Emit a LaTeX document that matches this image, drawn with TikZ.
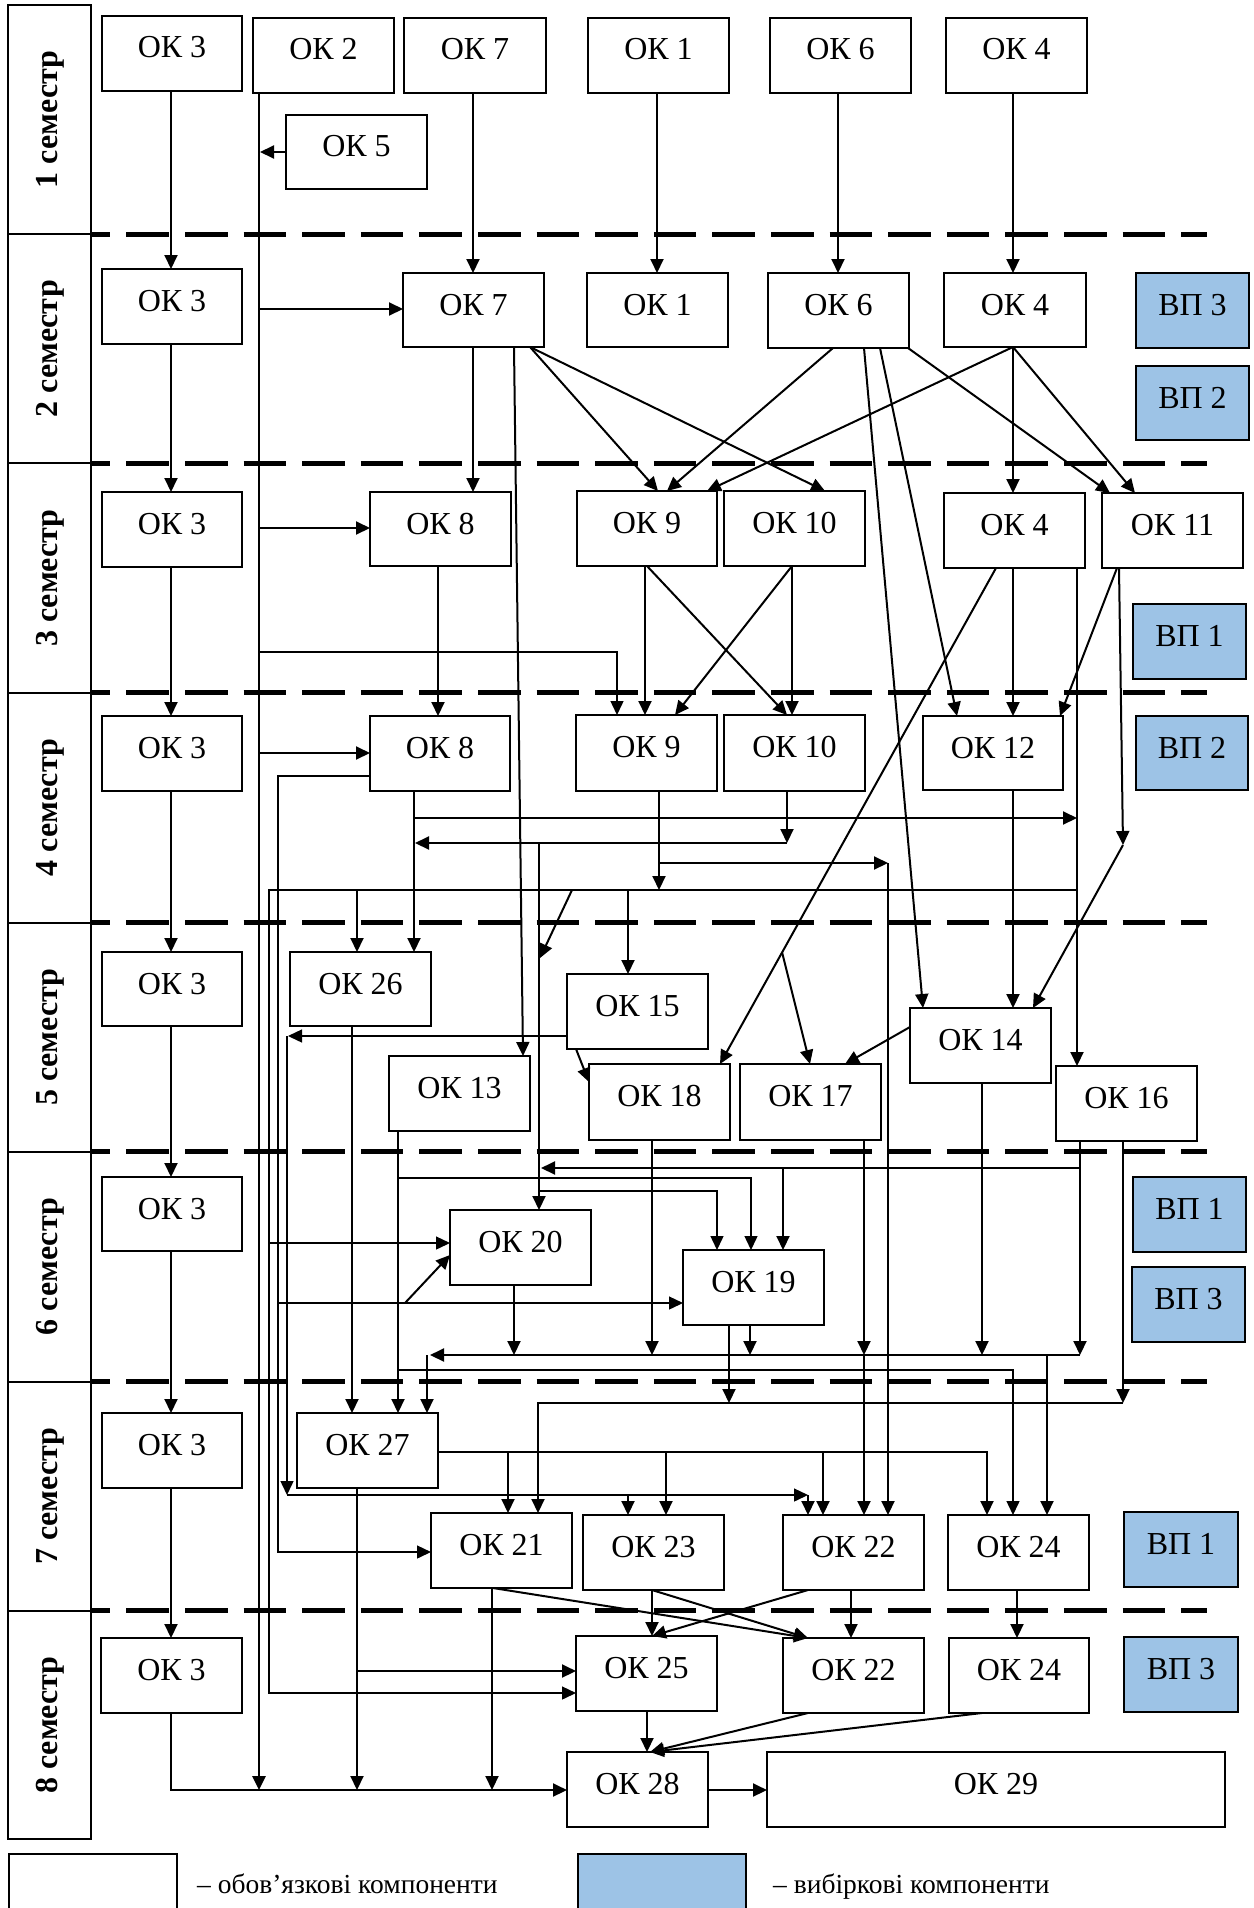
\documentclass[tikz,border=0pt]{standalone}
\usepackage{fontspec}
\setmainfont{Liberation Serif}
\newfontfamily\bxfont{Liberation Serif}
\usetikzlibrary{arrows.meta}
\definecolor{vpblue}{HTML}{9DC3E6}
\tikzset{
  bx/.style={draw, line width=2pt, fill=white, inner sep=0pt, outer sep=0pt, font=\bxfont\fontsize{32}{38}\selectfont},
  vp/.style={bx, fill=vpblue, line width=2.6pt},
  arr/.style={line width=2pt, -{Triangle[length=14pt,width=13pt]}},
  tarr/.style={line width=1.4pt, -{Triangle[length=14pt,width=13pt]}},
  sepline/.style={line width=5pt, dash pattern=on 42.5pt off 16.1pt, dash phase=22.9pt},
  semcell/.style={draw, line width=2pt},
  semtxt/.style={rotate=90, inner sep=0pt, font=\bfseries\fontsize{32}{38}\selectfont},
  legtxt/.style={anchor=base west, inner sep=0pt, font=\fontsize{27.5}{33}\selectfont}
}
\newcommand\bx[7][bx]{%
  \pgfmathsetmacro\bxw{#5-#3}%
  \pgfmathsetmacro\bxh{#6-#4}%
  \pgfmathsetmacro\bxd{#6-#4-42}%
  \pgfmathsetmacro\bxc{(#3+#5)/2}%
  \node[#1, minimum width=\bxw pt, minimum height=\bxh pt, text height=42pt, text depth=\bxd pt, anchor=north] (#2) at (\bxc,#4) {#7};}
\begin{document}
\begin{tikzpicture}[x=1pt,y=-1pt]
\useasboundingbox (0,0) rectangle (1253,1908);
% helper coordinates
\foreach \v in {171,259,473,657,838,1013,514,523,530,658,825,833,667,707,908,1110,1135,880,957,864,923,617,438,645,647,787,792,675,996,720,810,1077,1117,1060,1119,1033,414,539,659,888,357,628,576,352,398,751,845,982,652,1080,783,1123,538,717,750,729,427,1047,987,508,666,823,492,493,808,851,1017,650}
  \coordinate (X\v) at (\v,0);
\foreach \v in {152,309,528,753,776,1552,1693,1036,1082,1027,1243,1303,1255,1452,1671,1790}
  \coordinate (Y\v) at (0,\v);
% semester column
\foreach \i/\t/\b in {1/4.7/234.3,2/234.3/463.3,3/463.3/692.7,4/692.7/922.7,5/922.7/1151.7,6/1151.7/1381.7,7/1381.7/1610.7,8/1610.7/1839.3}{
  \draw[semcell] (8.3,\t) rectangle (90.7,\b);
  \node[semtxt] (s\i) at (50,{(\t+\b)/2}) {\i\ семестр};
}
% separators
\foreach \y in {234.3,463.3,692.7,922.7,1151.7,1381.7,1610.7}
  \draw[sepline] (90.7,\y) -- (1207,\y);
% boxes
\bx{a3}{102}{16}{242}{91}{ОК 3}
\bx{a2}{253}{18}{394}{93}{ОК 2}
\bx{a7}{404}{18}{546}{93}{ОК 7}
\bx{a1}{588}{18}{729}{93}{ОК 1}
\bx{a6}{770}{18}{911}{93}{ОК 6}
\bx{a4}{946}{18}{1087}{93}{ОК 4}
\bx{a5}{286}{115}{427}{189}{ОК 5}
\bx{b3}{102}{269}{242}{344}{ОК 3}
\bx{b7}{403}{273}{544}{347}{ОК 7}
\bx{b1}{587}{273}{728}{347}{ОК 1}
\bx{b6}{768}{273}{909}{348}{ОК 6}
\bx{b4}{944}{273}{1086}{347}{ОК 4}
\bx[vp]{bvp3}{1136}{273}{1249}{348}{ВП 3}
\bx[vp]{bvp2}{1136}{366}{1249}{440}{ВП 2}
\bx{c3}{102}{492}{242}{567}{ОК 3}
\bx{c8}{370}{492}{511}{566}{ОК 8}
\bx{c9}{577}{491}{717}{566}{ОК 9}
\bx{c10}{724}{491}{865}{566}{ОК 10}
\bx{c4}{944}{493}{1085}{568}{ОК 4}
\bx{c11}{1102}{493}{1243}{568}{ОК 11}
\bx[vp]{cvp1}{1133}{604}{1246}{679}{ВП 1}
\bx{d3}{102}{716}{242}{791}{ОК 3}
\bx{d8}{370}{716}{510}{791}{ОК 8}
\bx{d9}{576}{715}{717}{791}{ОК 9}
\bx{d10}{724}{715}{865}{791}{ОК 10}
\bx{d12}{923}{716}{1063}{790}{ОК 12}
\bx[vp]{dvp2}{1136}{716}{1248}{790}{ВП 2}
\bx{e3}{102}{952}{242}{1026}{ОК 3}
\bx{e26}{290}{952}{431}{1026}{ОК 26}
\bx{e15}{567}{974}{708}{1049}{ОК 15}
\bx{e13}{389}{1056}{530}{1131}{ОК 13}
\bx{e18}{589}{1064}{730}{1140}{ОК 18}
\bx{e17}{740}{1064}{881}{1140}{ОК 17}
\bx{e14}{910}{1008}{1051}{1083}{ОК 14}
\bx{e16}{1056}{1066}{1197}{1141}{ОК 16}
\bx{f3}{102}{1177}{242}{1251}{ОК 3}
\bx{f20}{450}{1210}{591}{1285}{ОК 20}
\bx{f19}{683}{1250}{824}{1325}{ОК 19}
\bx[vp]{fvp1}{1133}{1177}{1246}{1252}{ВП 1}
\bx[vp]{fvp3}{1132}{1267}{1245}{1342}{ВП 3}
\bx{g3}{102}{1413}{242}{1488}{ОК 3}
\bx{g27}{297}{1413}{438}{1488}{ОК 27}
\bx{g21}{431}{1513}{572}{1588}{ОК 21}
\bx{g23}{583}{1515}{724}{1590}{ОК 23}
\bx{g22}{783}{1515}{924}{1590}{ОК 22}
\bx{g24}{948}{1515}{1089}{1590}{ОК 24}
\bx[vp]{gvp1}{1124}{1512}{1238}{1587}{ВП 1}
\bx{h3}{101}{1638}{242}{1713}{ОК 3}
\bx{h25}{576}{1636}{717}{1711}{ОК 25}
\bx{h22}{783}{1638}{924}{1713}{ОК 22}
\bx{h24}{949}{1638}{1089}{1713}{ОК 24}
\bx[vp]{hvp3}{1124}{1637}{1238}{1712}{ВП 3}
\bx{h28}{567}{1752}{708}{1827}{ОК 28}
\bx{h29}{767}{1752}{1225}{1827}{ОК 29}
% legend
\node[bx, minimum width=168pt, minimum height=62pt, anchor=north west] (lg1) at (9,1854) {};
\node[vp, minimum width=168pt, minimum height=62pt, anchor=north west] (lg2) at (578,1854) {};
\node[legtxt] (lt1) at (197,1893) {– обов’язкові компоненти};
\node[legtxt] (lt2) at (773,1893) {– вибіркові компоненти};
% ---- connectors ----
% semester 1
\draw[arr] (a3.south -| X171) -- (b3.north -| X171);
\draw[arr, line width=2.8pt] (a2.south -| X259) -- (259,1790);
\draw[arr] (a5.west |- Y152) -- (260,152);
\draw[arr] (a7.south -| X473) -- (b7.north -| X473);
\draw[arr] (a1.south -| X657) -- (b1.north -| X657);
\draw[arr] (a6.south -| X838) -- (b6.north -| X838);
\draw[arr] (a4.south -| X1013) -- (b4.north -| X1013);
% semester 2
\draw[arr] (259,309) -- (b7.west |- Y309);
\draw[arr] (b3.south -| X171) -- (c3.north -| X171);
\draw[arr] (b7.south -| X473) -- (c8.north -| X473);
\draw[arr] (b7.south -| X514) -- (e13.north -| X523);
\draw[arr] (b7.south -| X530) -- (c9.north -| X658);
\draw[arr] (b7.south -| X530) -- (c10.north -| X825);
\draw[arr] (b6.south -| X833) -- (c9.north -| X667);
\draw[arr] (b4.south -| X1013) -- (c9.north -| X707);
\draw[arr] (b6.south -| X908) -- (c11.north -| X1110);
\draw[arr] (b4.south -| X1013) -- (c11.north -| X1135);
\draw[arr] (b4.south -| X1013) -- (c4.north -| X1013);
\draw[arr] (b6.south -| X880) -- (d12.north -| X957);
\draw[arr] (b6.south -| X864) -- (e14.north -| X923);
% semester 3
\draw[arr] (259,528) -- (c8.west |- Y528);
\draw[tarr] (259,652) -- (617,652) -- (d9.north -| X617);
\draw[arr] (c3.south -| X171) -- (d3.north -| X171);
\draw[arr] (c8.south -| X438) -- (d8.north -| X438);
\draw[arr] (c9.south -| X645) -- (d9.north -| X645);
\draw[arr] (c9.south -| X647) -- (d10.north -| X787);
\draw[arr] (c10.south -| X792) -- (d9.north -| X675);
\draw[arr] (c10.south -| X792) -- (d10.north -| X792);
\draw[arr] (c4.south -| X996) -- (e18.north -| X720);
\draw[arr] (782,952) -- (e17.north -| X810);
\draw[arr] (c4.south -| X1013) -- (d12.north -| X1013);
\draw[arr] (c4.south -| X1077) -- (e16.north -| X1077);
\draw[arr] (c11.south -| X1117) -- (d12.north -| X1060);
\draw[arr] (c11.south -| X1119) -- (1123,845);
\draw[arr] (1123,845) -- (e14.north -| X1033);
% semester 4
\draw[arr] (259,753) -- (d8.west |- Y753);
\draw[arr] (d3.south -| X171) -- (e3.north -| X171);
\draw[tarr] (d8.west |- Y776) -- (278,776) -- (278,1552) -- (g21.west |- Y1552);
\draw[arr] (d8.south -| X414) -- (e26.north -| X414);
\draw[arr] (414,818) -- (1077,818);
\draw[arr] (d10.south -| X787) -- (787,843);
\draw[arr] (787,843) -- (415,843);
\draw[arr] (539,843) -- (f20.north -| X539);
\draw[arr] (d9.south -| X659) -- (659,890);
\draw[arr] (659,863) -- (888,863);
\draw[arr] (888,863) -- (g22.north -| X888);
\draw[tarr] (1077,890) -- (269,890) -- (269,1693) -- (h25.west |- Y1693);
\draw[arr] (357,890) -- (e26.north -| X357);
\draw[arr] (628,890) -- (e15.north -| X628);
\draw[arr] (572,890) -- (540,958);
\draw[arr] (d12.south -| X1013) -- (e14.north -| X1013);
% semester 5
\draw[arr] (e3.south -| X171) -- (f3.north -| X171);
\draw[tarr] (e15.west |- Y1036) -- (288,1036);
\draw[tarr] (287,1036) -- (287,1495);
\draw[tarr] (287,1495) -- (808,1495);
\draw[arr] (808,1495) -- (g22.north -| X808);
\draw[arr] (628,1495) -- (g23.north -| X628);
\draw[arr] (e15.south -| X576) -- (e18.west |- Y1082);
\draw[arr] (e26.south -| X352) -- (g27.north -| X352);
\draw[arr] (e13.south -| X398) -- (g27.north -| X398);
\draw[tarr] (398,1178) -- (751,1178) -- (f19.north -| X751);
\draw[tarr] (398,1370) -- (1013,1370) -- (g24.north -| X1013);
\draw[arr] (e14.west |- Y1027) -- (e17.north -| X845);
\draw[arr] (e14.south -| X982) -- (982,1355);
\draw[arr] (e17.south -| X864) -- (864,1355);
\draw[arr] (864,1355) -- (g22.north -| X864);
\draw[arr] (e18.south -| X652) -- (652,1355);
\draw[arr] (e16.south -| X1080) -- (1080,1355);
\draw[arr] (1080,1168) -- (541,1168);
\draw[arr] (783,1168) -- (f19.north -| X783);
\draw[arr] (e16.south -| X1123) -- (1123,1403);
\draw[arr] (1123,1403) -- (538,1403) -- (g21.north -| X538);
% semester 6
\draw[arr] (f3.south -| X171) -- (g3.north -| X171);
\draw[tarr] (539,1191) -- (717,1191) -- (f19.north -| X717);
\draw[tarr] (269,1243) -- (f20.west |- Y1243);
\draw[tarr] (278,1303) -- (f19.west |- Y1303);
\draw[arr] (405,1303) -- (f20.west |- Y1255);
\draw[arr] (f20.south -| X514) -- (514,1355);
\draw[arr] (f19.south -| X750) -- (750,1355);
\draw[arr] (f19.south -| X729) -- (729,1403);
\draw[arr] (1080,1355) -- (430,1355);
\draw[arr] (427,1355) -- (g27.north -| X427);
\draw[arr] (1047,1355) -- (g24.north -| X1047);
% semester 7
\draw[arr] (g3.south -| X171) -- (h3.north -| X171);
\draw[arr] (g27.east |- Y1452) -- (987,1452) -- (g24.north -| X987);
\draw[arr] (508,1452) -- (g21.north -| X508);
\draw[arr] (666,1452) -- (g23.north -| X666);
\draw[arr] (823,1452) -- (g22.north -| X823);
\draw[arr] (g27.south -| X357) -- (357,1790);
\draw[arr] (357,1671) -- (h25.west |- Y1671);
\draw[arr] (g21.south -| X492) -- (492,1790);
\draw[arr] (g21.south -| X493) -- (h22.north -| X808);
\draw[arr] (g23.south -| X652) -- (h25.north -| X652);
\draw[arr] (g23.south -| X652) -- (h22.north -| X808);
\draw[arr] (g22.south -| X808) -- (h25.north -| X652);
\draw[arr] (g22.south -| X851) -- (h22.north -| X851);
\draw[arr] (g24.south -| X1017) -- (h24.north -| X1017);
% semester 8
\draw[arr] (h3.south -| X171) -- (171,1790) -- (h28.west |- Y1790);
\draw[arr] (h25.south -| X647) -- (h28.north -| X647);
\draw[arr] (h22.south -| X808) -- (h28.north -| X650);
\draw[arr] (h24.south -| X982) -- (h28.north -| X650);
\draw[arr] (h28.east |- Y1790) -- (h29.west |- Y1790);
\end{tikzpicture}
\end{document}
